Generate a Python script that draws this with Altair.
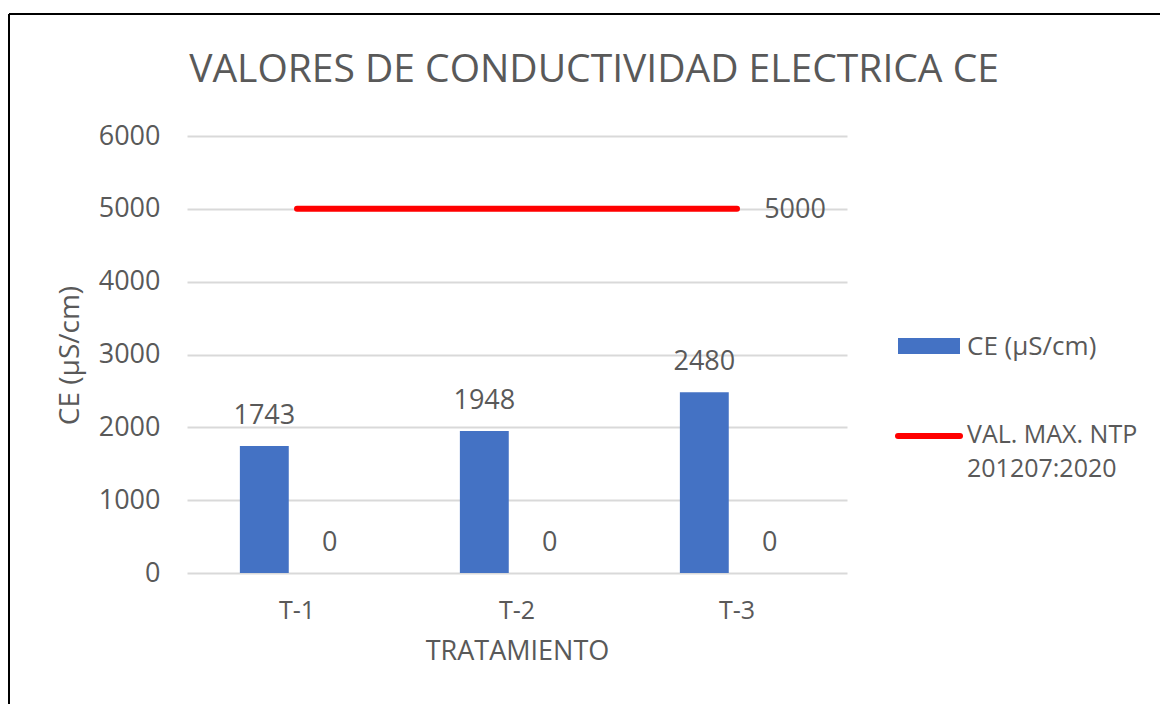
import altair as alt
import pandas as pd

categories = ["T-1", "T-2", "T-3"]
ce_values = [1743, 1948, 2480]
zero_values = [0, 0, 0]
limit_values = [5000, 5000, 5000]

series_ce = "CE (µS/cm)"
series_zero = "Serie 2"
limit_name = ["VAL. MAX. NTP", "201207:2020"]
chart_title = "VALORES DE CONDUCTIVIDAD ELECTRICA CE"

bars_df = pd.DataFrame({
    "tratamiento": categories * 2,
    "serie": [series_ce] * 3 + [series_zero] * 3,
    "valor": ce_values + zero_values,
})
limit_df = pd.DataFrame({"tratamiento": categories, "valor": limit_values})
limit_last = limit_df.tail(1)

FONT = "Open Sans"
GRAY = "#595959"
BLUE = "#4472C4"
RED = "#FF0000"

W, H = 660, 437

xscale = alt.Scale(domain=categories, paddingInner=0, paddingOuter=0)
yscale = alt.Scale(domain=[0, 6000])
offscale = alt.Scale(domain=[series_ce, series_zero], paddingInner=0.252, paddingOuter=0.809)

x_enc = alt.X("tratamiento:N", scale=xscale, sort=categories,
              axis=alt.Axis(title="TRATAMIENTO", labelAngle=0, labelFontSize=25,
                            labelColor=GRAY, labelFont=FONT, labelPadding=37,
                            labelBaseline="middle",
                            titleFont=FONT, titleFontSize=27, titleColor=GRAY,
                            titleFontWeight="normal", titleY=78, titleBaseline="middle",
                            ticks=False, domain=False, grid=False))
y_enc = alt.Y("valor:Q", scale=yscale,
              axis=alt.Axis(title="CE (µS/cm)", values=[0, 1000, 2000, 3000, 4000, 5000, 6000],
                            format="d",
                            labelFontSize=27, labelColor=GRAY, labelFont=FONT, labelPadding=27,
                            titleFont=FONT, titleFontSize=28, titleColor=GRAY,
                            titleFontWeight="normal", titleX=-117, titleY=219,
                            titleAngle=-90, titleBaseline="middle", titleAlign="center",
                            ticks=False, domain=False, gridColor="#D9D9D9", gridWidth=2))

bars = alt.Chart(bars_df).mark_bar(color=BLUE).encode(
    x=x_enc,
    xOffset=alt.XOffset("serie:N", scale=offscale),
    y=y_enc,
    opacity=alt.condition(alt.datum.serie == series_ce, alt.value(1), alt.value(0)),
)

labels = alt.Chart(bars_df).mark_text(fontSize=27, font=FONT, color=GRAY,
                                      baseline="middle", dy=-30).encode(
    x=alt.X("tratamiento:N", scale=xscale, sort=categories),
    xOffset=alt.XOffset("serie:N", scale=offscale),
    y=alt.Y("valor:Q", scale=yscale),
    text=alt.Text("valor:Q"),
)

line = alt.Chart(limit_df).mark_line(color=RED, strokeWidth=6, strokeCap="round").encode(
    x=alt.X("tratamiento:N", scale=xscale, sort=categories),
    y=alt.Y("valor:Q", scale=yscale),
)

line_label = alt.Chart(limit_last).mark_text(fontSize=27, font=FONT, color=GRAY,
                                             baseline="middle", align="center", dx=58, dy=1).encode(
    x=alt.X("tratamiento:N", scale=xscale, sort=categories),
    y=alt.Y("valor:Q", scale=yscale),
    text=alt.Text("valor:Q"),
)

one = pd.DataFrame({"a": [0]})

title_mark = alt.Chart(pd.DataFrame({"t": [chart_title]})).mark_text(
    fontSize=39, font=FONT, color=GRAY, align="center", baseline="middle").encode(
    x=alt.value(407), y=alt.value(-66), text="t:N")

# manual legend
leg_rect = alt.Chart(one).mark_rect(color=BLUE).encode(
    x=alt.value(711), x2=alt.value(773), y=alt.value(202), y2=alt.value(218))
leg_line = alt.Chart(one).mark_rule(color=RED, strokeWidth=6, strokeCap="round").encode(
    x=alt.value(711), x2=alt.value(773), y=alt.value(300))
leg_t1 = alt.Chart(pd.DataFrame({"t": [series_ce]})).mark_text(
    fontSize=26, font=FONT, color=GRAY, align="left", baseline="middle").encode(
    x=alt.value(780), y=alt.value(211), text="t:N")
leg_t2 = alt.Chart(pd.DataFrame({"t": [limit_name[0]]})).mark_text(
    fontSize=25, font=FONT, color=GRAY, align="left", baseline="middle").encode(
    x=alt.value(780), y=alt.value(299), text="t:N")
leg_t3 = alt.Chart(pd.DataFrame({"t": [limit_name[1]]})).mark_text(
    fontSize=25, font=FONT, color=GRAY, align="left", baseline="middle").encode(
    x=alt.value(780), y=alt.value(333), text="t:N")

# frame
frame_left = alt.Chart(one).mark_rule(color="black", strokeWidth=2).encode(
    x=alt.value(-178), y=alt.value(-122), y2=alt.value(600))
frame_top = alt.Chart(one).mark_rule(color="black", strokeWidth=2).encode(
    x=alt.value(-178), x2=alt.value(975), y=alt.value(-122))

chart = alt.layer(
    bars, labels, line, line_label, title_mark, leg_rect, leg_line, leg_t1, leg_t2, leg_t3,
    frame_left, frame_top
).properties(
    width=W, height=H,
    padding={"left": 179, "top": 128, "right": 313, "bottom": 131},
    autosize=alt.AutoSizeParams(type="none"),
).configure(background="white").configure_view(strokeWidth=0)

chart.save("out.html", embed_options={"renderer": "svg", "actions": False})
